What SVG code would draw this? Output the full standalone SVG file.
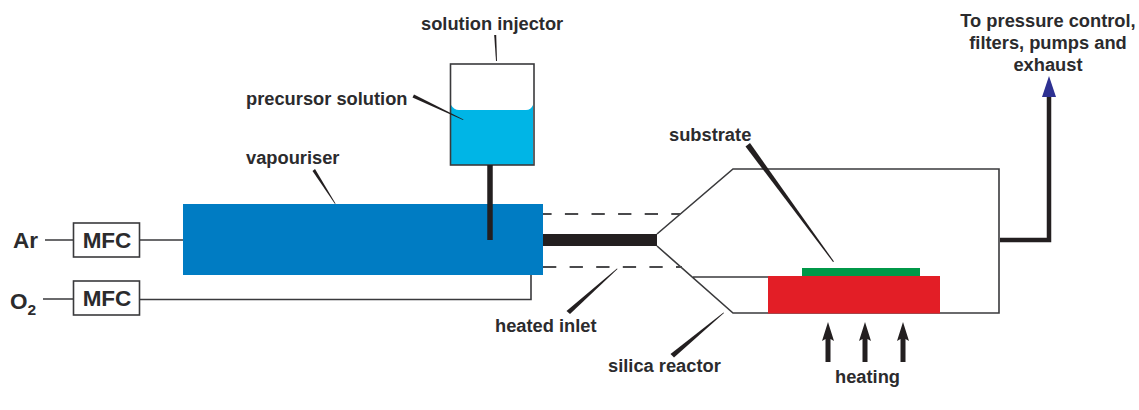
<svg xmlns="http://www.w3.org/2000/svg" width="1139" height="410" viewBox="0 0 1139 410">
<style>
text{font-family:"Liberation Sans",Arial,sans-serif;font-weight:bold;font-size:18.3px;fill:#2b2b2d}
.big{font-size:22.500px}
.box{fill:#fff;stroke:#3a3a3c;stroke-width:1.6}
.ln{fill:none;stroke:#3a3a3c;stroke-width:1.6}
.dash{fill:none;stroke:#4a4a4c;stroke-width:1.8;stroke-dasharray:13.300 13.300}
.lead{fill:#231f20}
.mid{text-anchor:middle}
</style>
<rect width="1139" height="410" fill="#fff"/>
<g id="reactor">
<path class="ln" d="M657 234L733 169H999V313H733L657 246M693 277H768"/>
</g>
<g id="substrate"><rect x="802" y="268" width="118" height="8" fill="#009848"/></g>
<g id="heater"><rect x="768" y="276" width="172" height="37.500" fill="#e31e26"/></g>
<g id="vapouriser"><rect x="183" y="204" width="360" height="71" fill="#007cc3"/></g>
<g id="injector">
<path d="M451 105Q454 110 459 110H526Q531 110 533 105V165H451Z" fill="#00b5e6"/>
<rect x="450.500" y="64" width="83.500" height="101" fill="none" stroke="#3a3a3c" stroke-width="1.600"/>
</g>
<g id="connectors">
<path class="ln" d="M45 240H73M140 240H183M43 299H73M140 299.500H531V275"/>
<path class="dash" stroke-dashoffset="4.700" d="M543 214H680"/>
<path class="dash" d="M543 267H682"/>
<path d="M543 240H657" stroke="#231f20" stroke-width="12" fill="none"/>
<path d="M490 165V240" stroke="#231f20" stroke-width="5.500" fill="none"/>
<path d="M1000 240H1049V97" stroke="#231f20" stroke-width="4.500" fill="none"/>
<polygon points="1049,76 1056,97 1042,97" fill="#2e3192"/>
<polygon points="828,322 834,341 830.500,339 830.500,362 825.500,362 825.500,339 822,341" fill="#231f20"/>
<polygon points="865,322 871,341 867.500,339 867.500,362 862.500,362 862.500,339 859,341" fill="#231f20"/>
<polygon points="903,322 909,341 905.500,339 905.500,362 900.500,362 900.500,339 897,341" fill="#231f20"/>
</g>
<g id="leaders">
<polygon class="lead" points="494.200,35 496.200,35 497,61 496,61"/>
<polygon class="lead" points="414,94.500 412.500,97.500 463,120 463.500,119.500"/>
<polygon class="lead" points="315,169 312.500,171 335,204 335.500,203.500"/>
<polygon class="lead" points="750,143 745.500,146.500 833,262 834,261.500"/>
<polygon class="lead" points="566.500,311 570,314 617.500,269 617,268.500"/>
<polygon class="lead" points="670.500,354 674,357.500 724,313 723.500,312.500"/>
</g>
<g id="mfc-ar"><rect class="box" x="73.500" y="223" width="66" height="34"/><text class="mid big" x="107" y="248">MFC</text></g>
<g id="mfc-o2"><rect class="box" x="73.500" y="281" width="66" height="34"/><text class="mid big" x="107" y="306">MFC</text></g>
<g id="labels">
<text class="big" x="13" y="248">Ar</text>
<text class="big" x="10" y="309">O<tspan font-size="15.500" dy="6">2</tspan></text>
<text x="421" y="30">solution injector</text>
<text x="246" y="105">precursor solution</text>
<text x="246" y="164">vapouriser</text>
<text x="669" y="141">substrate</text>
<text x="495" y="332">heated inlet</text>
<text x="608" y="372">silica reactor</text>
<text x="835" y="383">heating</text>
<text class="mid" x="1048" y="27">To pressure control,</text>
<text class="mid" x="1048" y="49">filters, pumps and</text>
<text class="mid" x="1048" y="71">exhaust</text>
</g>
</svg>
